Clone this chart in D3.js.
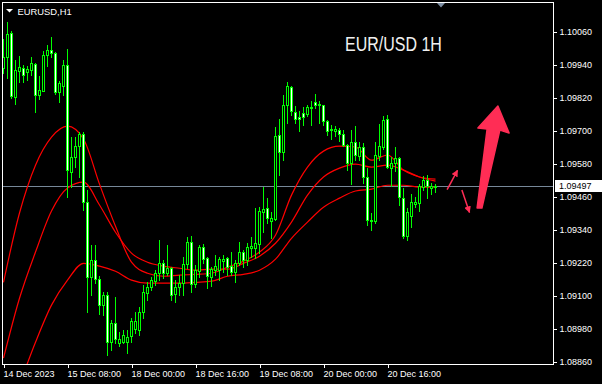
<!DOCTYPE html>
<html><head><meta charset="utf-8">
<script src="https://cdn.jsdelivr.net/npm/d3@7"></script>
<style>
html,body{margin:0;padding:0;background:#000;}
svg{display:block;}
</style></head>
<body>
<svg id="c" width="602" height="384"></svg>
<script>
// ---- data ----
const opens = [1.09927,1.09967,1.10055,1.09822,1.09917,1.09927,1.09913,1.09920,1.09942,1.09829,
1.09844,1.09975,1.09993,1.09982,1.09840,1.09862,1.09938,1.09549,1.09603,1.09643,
1.09687,1.09440,1.09166,1.09228,1.09159,1.09065,1.09101,1.08930,1.08999,1.08926,
1.08930,1.08930,1.08952,1.08977,1.08974,1.09039,1.09108,1.09130,1.09152,1.09181,
1.09217,1.09181,1.09199,1.09105,1.09130,1.09145,1.09214,1.09294,1.09141,1.09188,
1.09276,1.09236,1.09166,1.09192,1.09192,1.09225,1.09236,1.09207,1.09185,1.09217,
1.09258,1.09228,1.09272,1.09272,1.09287,1.09403,1.09418,1.09370,1.09378,1.09684,
1.09622,1.09793,1.09858,1.09767,1.09749,1.09764,1.09760,1.09782,1.09804,1.09793,
1.09793,1.09734,1.09702,1.09698,1.09702,1.09687,1.09647,1.09582,1.09658,1.09607,
1.09640,1.09531,1.09374,1.09370,1.09607,1.09640,1.09742,1.09563,1.09582,1.09600,
1.09454,1.09316,1.09389,1.09432,1.09436,1.09494,1.09520,1.09491,1.09494];
const highs = [1.10033,1.10095,1.10062,1.09957,1.09971,1.09938,1.09935,1.09967,1.09946,1.09898,
1.09989,1.10011,1.10040,1.09986,1.09880,1.09957,1.09997,1.09676,1.09676,1.09694,
1.09694,1.09483,1.09283,1.09283,1.09170,1.09112,1.09112,1.09010,1.09094,1.08966,
1.08974,1.08974,1.09017,1.09039,1.09057,1.09137,1.09148,1.09166,1.09192,1.09301,
1.09228,1.09283,1.09203,1.09156,1.09174,1.09239,1.09312,1.09316,1.09210,1.09283,
1.09287,1.09239,1.09203,1.09247,1.09239,1.09247,1.09239,1.09258,1.09228,1.09294,
1.09265,1.09290,1.09312,1.09418,1.09421,1.09494,1.09454,1.09403,1.09713,1.09742,
1.09829,1.09876,1.09862,1.09789,1.09771,1.09785,1.09793,1.09807,1.09833,1.09807,
1.09793,1.09738,1.09720,1.09716,1.09709,1.09702,1.09651,1.09702,1.09716,1.09658,
1.09654,1.09563,1.09400,1.09658,1.09724,1.09753,1.09756,1.09603,1.09640,1.09603,
1.09491,1.09418,1.09469,1.09458,1.09505,1.09534,1.09538,1.09509,1.09505];
const lows = [1.09909,1.09891,1.09818,1.09796,1.09876,1.09876,1.09884,1.09902,1.09767,1.09815,
1.09844,1.09935,1.09967,1.09833,1.09804,1.09829,1.09458,1.09494,1.09567,1.09531,
1.09410,1.09039,1.09101,1.09145,1.09032,1.09028,1.08882,1.08901,1.08926,1.08915,
1.08926,1.08890,1.08930,1.08963,1.08955,1.09017,1.09083,1.09119,1.09137,1.09156,
1.09163,1.09174,1.09083,1.09075,1.09101,1.09101,1.09199,1.09112,1.09130,1.09166,
1.09217,1.09126,1.09134,1.09174,1.09156,1.09185,1.09174,1.09174,1.09148,1.09210,
1.09203,1.09210,1.09239,1.09236,1.09254,1.09330,1.09363,1.09308,1.09374,1.09538,
1.09592,1.09727,1.09756,1.09727,1.09698,1.09720,1.09753,1.09720,1.09782,1.09727,
1.09720,1.09684,1.09669,1.09680,1.09662,1.09643,1.09556,1.09505,1.09592,1.09592,
1.09509,1.09356,1.09338,1.09363,1.09592,1.09633,1.09563,1.09498,1.09552,1.09429,
1.09308,1.09301,1.09349,1.09421,1.09407,1.09483,1.09454,1.09469,1.09476];
const closes = [1.09967,1.10051,1.09826,1.09920,1.09931,1.09902,1.09924,1.09946,1.09829,1.09847,
1.09975,1.09993,1.09982,1.09840,1.09873,1.09938,1.09556,1.09603,1.09643,1.09687,
1.09440,1.09166,1.09228,1.09159,1.09065,1.09101,1.08930,1.08999,1.08941,1.08941,
1.08955,1.08948,1.09006,1.09006,1.09039,1.09112,1.09130,1.09156,1.09181,1.09217,
1.09181,1.09199,1.09101,1.09130,1.09145,1.09214,1.09294,1.09141,1.09192,1.09276,
1.09232,1.09170,1.09196,1.09207,1.09232,1.09232,1.09203,1.09185,1.09217,1.09258,
1.09228,1.09276,1.09279,1.09290,1.09407,1.09414,1.09381,1.09381,1.09680,1.09622,
1.09793,1.09862,1.09771,1.09742,1.09742,1.09749,1.09785,1.09785,1.09793,1.09796,
1.09734,1.09698,1.09705,1.09705,1.09687,1.09647,1.09582,1.09658,1.09611,1.09640,
1.09531,1.09374,1.09370,1.09611,1.09643,1.09738,1.09567,1.09582,1.09600,1.09458,
1.09316,1.09403,1.09440,1.09440,1.09498,1.09520,1.09498,1.09498,1.09497];

const maIdx = [0,4,8,12,16,20,24,28,32,36,40,44,48,52,56,60,64,68,72,76,80,84,88,92,96,100,104,108];
const maFast = [1.09148,1.09400,1.09574,1.09676,1.09716,1.09669,1.09505,1.09352,1.09221,1.09181,
1.09170,1.09174,1.09177,1.09181,1.09203,1.09225,1.09258,1.09319,1.09465,1.09567,
1.09625,1.09643,1.09640,1.09592,1.09611,1.09556,1.09531,1.09523];
const maMid = [1.08872,1.09090,1.09258,1.09407,1.09491,1.09512,1.09429,1.09330,1.09254,1.09221,
1.09207,1.09199,1.09192,1.09196,1.09196,1.09217,1.09243,1.09290,1.09367,1.09465,
1.09531,1.09563,1.09578,1.09567,1.09574,1.09556,1.09531,1.09516];
const maSlow = [1.08628,1.08777,1.08930,1.09065,1.09156,1.09217,1.09207,1.09188,1.09156,1.09145,
1.09145,1.09145,1.09148,1.09152,1.09170,1.09177,1.09192,1.09232,1.09308,1.09367,
1.09421,1.09454,1.09480,1.09487,1.09501,1.09501,1.09494,1.09494];

const yTicks = [1.10060,1.09940,1.09820,1.09700,1.09580,1.09460,1.09340,1.09220,1.09100,1.08980,1.08860];
const xTickIdx = [0,16,32,48,64,80,96];
const xTickLabels = ["14 Dec 2023","15 Dec 08:00","18 Dec 00:00","18 Dec 16:00","19 Dec 08:00","20 Dec 00:00","20 Dec 16:00"];
const lastPrice = 1.09497;
const symbolLabel = "EURUSD,H1";
const titleText = "EUR/USD 1H";

// annotation arrows drawn on the chart, in (bar index, price)
const smallArrows = [
  [[110.9,1.09485],[113.5,1.09555]],
  [[114.6,1.09484],[116.5,1.09402]]
];
const bigArrow = [[118.4,1.09418],[120.9,1.09705],[118.6,1.09709],[123.6,1.09789],[126.4,1.09691],[124.1,1.09702],[119.6,1.09418]];

// ---- drawing ----
const svg = d3.select("#c");
const GREEN = "#00ff00", RED = "#ff0000", PINK = "#ff2d55";
const pL = 2, pT = 2, pR = 553, pB = 364;

svg.append("rect").attr("width",602).attr("height",384).attr("fill","#000");

const x = d3.scaleLinear().domain([0,108]).range([3.5,435.5]);
const y = d3.scaleLinear().domain([1.08860,1.10060]).range([361.5,31.5]);

const defs = svg.append("defs");
defs.append("clipPath").attr("id","plot")
  .append("rect").attr("x",pL+1).attr("y",pT+1).attr("width",pR-pL-1).attr("height",pB-pT-1);

const plot = svg.append("g").attr("clip-path","url(#plot)");

// current price line
const py = Math.round(y(lastPrice)) + 0.5;
plot.append("line").attr("x1",pL).attr("x2",pR).attr("y1",py).attr("y2",py)
  .attr("stroke","#778899").attr("stroke-width",1);

// moving averages
const maLine = d3.line().x((d,i)=>x(maIdx[i])).y(d=>y(d)).curve(d3.curveMonotoneX);
[maSlow, maMid, maFast].forEach(s=>{
  plot.append("path").attr("d",maLine(s)).attr("fill","none")
    .attr("stroke",RED).attr("stroke-width",1.2);
});

// candles
const bars = d3.range(opens.length).map(i=>({i,o:opens[i],h:highs[i],l:lows[i],c:closes[i]}));
const cg = plot.append("g").attr("shape-rendering","crispEdges");
bars.forEach(b=>{
  const cx = x(b.i);
  const yh = Math.round(y(b.h)), yl = Math.round(y(b.l));
  const yt = Math.round(y(Math.max(b.o,b.c))), yb = Math.round(y(Math.min(b.o,b.c)));
  cg.append("rect").attr("x",cx-0.5).attr("width",1).attr("y",yh).attr("height",Math.max(1,yl-yh+1)).attr("fill",GREEN);
  cg.append("rect").attr("x",cx-1.5).attr("width",3).attr("y",yt).attr("height",Math.max(1,yb-yt+1)).attr("fill",GREEN);
  if (yb-yt >= 2) {
    cg.append("rect").attr("x",cx-0.5).attr("width",1).attr("y",yt+1).attr("height",yb-yt-1)
      .attr("fill", b.c > b.o ? "#000" : "#fff");
  }
});

// annotations
defs.append("marker").attr("id","ah").attr("viewBox","0 0 10 10").attr("refX",9).attr("refY",5)
  .attr("markerWidth",4.5).attr("markerHeight",4.5).attr("markerUnits","strokeWidth").attr("orient","auto")
  .append("path").attr("d","M0,0 L10,5 L0,10 Z").attr("fill",PINK);
smallArrows.forEach(a=>{
  svg.append("line").attr("x1",x(a[0][0])).attr("y1",y(a[0][1])).attr("x2",x(a[1][0])).attr("y2",y(a[1][1]))
    .attr("stroke",PINK).attr("stroke-width",1.5).attr("marker-end","url(#ah)");
});
svg.append("polygon").attr("points",bigArrow.map(p=>[x(p[0]),y(p[1])].join(",")).join(" "))
  .attr("fill",PINK).attr("stroke",PINK).attr("stroke-width",1.5).attr("stroke-linejoin","round");

// frame
svg.append("rect").attr("x",pL+0.5).attr("y",pT+0.5).attr("width",pR-pL).attr("height",pB-pT-0.5)
  .attr("fill","none").attr("stroke","#fff").attr("stroke-width",1).attr("shape-rendering","crispEdges");

// chart shift marker
svg.append("path").attr("d","M437,3 L445,3 L441,7.5 Z").attr("fill","#7d8ea3");

// y axis
const yAxis = svg.append("g").attr("transform",`translate(${pR+0.5},0)`)
  .call(d3.axisRight(y).tickValues(yTicks).tickSize(3).tickPadding(3).tickFormat(d3.format(".5f")));
yAxis.select(".domain").remove();
yAxis.selectAll("line").attr("stroke","#fff").attr("shape-rendering","crispEdges");
yAxis.selectAll("text").attr("fill","#fff").style("font","9px 'Liberation Sans', Arial, sans-serif");

// last price box
svg.append("rect").attr("x",555).attr("y",py-6.5).attr("width",47).attr("height",12).attr("fill","#fff");
svg.append("text").attr("x",559).attr("y",py).attr("dy","0.32em").text(d3.format(".5f")(lastPrice))
  .attr("fill","#000").style("font","9px 'Liberation Sans', Arial, sans-serif");

// x axis
const xAxis = svg.append("g").attr("transform",`translate(0,${pB})`)
  .call(d3.axisBottom(x).tickValues(xTickIdx).tickSize(4).tickFormat((d,i)=>xTickLabels[i]));
xAxis.select(".domain").remove();
xAxis.selectAll("line").attr("stroke","#fff").attr("shape-rendering","crispEdges");
xAxis.selectAll("text").attr("fill","#fff").attr("y",13).attr("dy",0).attr("x",-0.5)
  .attr("text-anchor","start").style("font","9px 'Liberation Sans', Arial, sans-serif");

// symbol label
svg.append("path").attr("d","M6,9 L13,9 L9.5,12.5 Z").attr("fill","#fff");
svg.append("text").attr("x",17.5).attr("y",14.5).text(symbolLabel).attr("fill","#fff")
  .style("font","9.4px 'Liberation Sans', Arial, sans-serif");

// title (narrow face emulated with a horizontal scale)
svg.append("text").attr("transform","translate(345,51) scale(0.82,1)").text(titleText).attr("fill","#f0f0f0")
  .style("font","19.5px 'Liberation Sans', Arial, sans-serif");
</script>
</body></html>
